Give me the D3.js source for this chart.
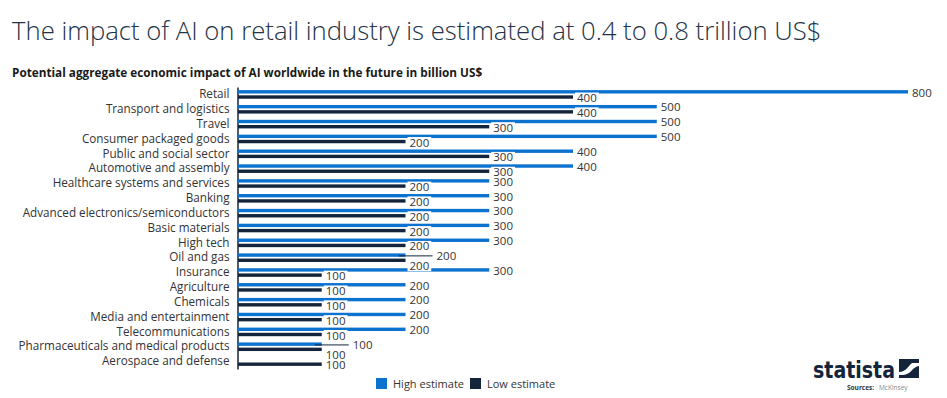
<!DOCTYPE html>
<html>
<head>
<meta charset="utf-8">
<script src="https://cdn.jsdelivr.net/npm/d3@7"></script>
<style>
  body { margin: 0; background: #fff; }
  svg { display: block; font-family: "Open Sans", sans-serif; }
</style>
</head>
<body>
<div id="chart"></div>
<script>
var categories = [
    "Retail", "Transport and logistics", "Travel", "Consumer packaged goods",
    "Public and social sector", "Automotive and assembly", "Healthcare systems and services",
    "Banking", "Advanced electronics/semiconductors", "Basic materials", "High tech",
    "Oil and gas", "Insurance", "Agriculture", "Chemicals", "Media and entertainment",
    "Telecommunications", "Pharmaceuticals and medical products", "Aerospace and defense"
];
var highEstimate = [800, 500, 500, 500, 400, 400, 300, 300, 300, 300, 300, 200, 300, 200, 200, 200, 200, 100, null];
var lowEstimate  = [400, 400, 300, 200, 300, 300, 200, 200, 200, 200, 200, 200, 100, 100, 100, 100, 100, 100, 100];
var seriesNames = ["High estimate", "Low estimate"];

var W = 947, H = 398;
var blue = "#0b72cf", navy = "#14253b", textCol = "#333";

var svg = d3.select("#chart").append("svg")
    .attr("width", W)
    .attr("height", H);

// titles
svg.append("text")
    .attr("x", 12).attr("y", 40)
    .attr("font-size", 25.7).attr("font-weight", 300)
    .attr("fill", "#243346")
    .text("The impact of AI on retail industry is estimated at 0.4 to 0.8 trillion US$");

svg.append("text")
    .attr("x", 12).attr("y", 77)
    .attr("font-size", 11.75).attr("font-weight", 700)
    .attr("fill", "#1a1a1a")
    .text("Potential aggregate economic impact of AI worldwide in the future in billion US$");

var x = d3.scaleLinear().domain([0, 800]).range([238, 908]);
var y = d3.scaleBand().domain(categories).range([87, 369]).paddingInner(0);
var half = y.bandwidth() / 2;
var hiY = function(i) { return y(categories[i]) + half - 2.6; };
var loY = function(i) { return y(categories[i]) + half + 2.6; };

var rows = categories.map(function(c, i) {
    return { cat: c, i: i, high: highEstimate[i], low: lowEstimate[i] };
});

// category axis
var axis = svg.append("g")
    .attr("transform", "translate(237.5,0)")
    .call(d3.axisLeft(y).tickSize(0).tickPadding(8));
axis.select(".domain").attr("stroke", navy).attr("stroke-width", 1.5);
axis.selectAll("text")
    .attr("font-size", 11.7)
    .attr("font-family", "Open Sans, sans-serif")
    .attr("fill", textCol);

var barH = 3.4;

svg.append("g").selectAll("rect")
    .data(rows.filter(function(d) { return d.high != null; }))
    .join("rect")
    .attr("x", x(0))
    .attr("y", function(d) { return hiY(d.i) - barH / 2; })
    .attr("width", function(d) { return x(d.high) - x(0); })
    .attr("height", barH)
    .attr("fill", blue);

svg.append("g").selectAll("rect")
    .data(rows)
    .join("rect")
    .attr("x", x(0))
    .attr("y", function(d) { return loY(d.i) - barH / 2; })
    .attr("width", function(d) { return x(d.low) - x(0); })
    .attr("height", barH)
    .attr("fill", navy);

// value labels: when both estimates are equal, the high one is pulled aside with a leader line
var labels = [];
rows.forEach(function(d) {
    var same = d.high === d.low;
    if (d.high != null) {
        labels.push({ v: d.high, x: x(d.high) + (same ? 31 : 4), y: hiY(d.i) + 0.8, leader: same });
    }
    labels.push({ v: d.low, x: x(d.low) + 4, y: loY(d.i) + (same ? 5.5 : 1), leader: false });
});

var lg = svg.append("g");
labels.forEach(function(l) {
    if (l.leader) {
        lg.append("line")
            .attr("x1", l.x - 38).attr("x2", l.x - 4)
            .attr("y1", l.y).attr("y2", l.y)
            .attr("stroke", navy).attr("stroke-width", 1);
    }
    var bg = lg.append("rect").attr("fill", "#fff");
    var t = lg.append("text")
        .attr("x", l.x).attr("y", l.y)
        .attr("dy", "0.35em")
        .attr("font-size", 11.5)
        .attr("fill", textCol)
        .text(l.v);
    var bb = t.node().getBBox();
    bg.attr("x", bb.x - 2).attr("y", l.y - 5.5)
        .attr("width", bb.width + 4).attr("height", 11);
});

// legend
var legend = svg.append("g");
[[376, blue], [470, navy]].forEach(function(p, k) {
    legend.append("rect")
        .attr("x", p[0]).attr("y", 378)
        .attr("width", 11).attr("height", 11)
        .attr("fill", p[1]);
    legend.append("text")
        .attr("x", p[0] + 17).attr("y", 388)
        .attr("font-size", 11).attr("fill", textCol)
        .text(seriesNames[k]);
});

// statista logo + source
svg.append("text")
    .attr("x", 813).attr("y", 378)
    .attr("font-family", "Liberation Sans Narrow, DejaVu Sans Condensed, sans-serif")
    .attr("font-size", 23).attr("font-weight", 700)
    .attr("textLength", 82).attr("lengthAdjust", "spacingAndGlyphs")
    .attr("fill", navy)
    .text("statista");
svg.append("rect")
    .attr("x", 899).attr("y", 359)
    .attr("width", 20).attr("height", 19)
    .attr("fill", navy);
svg.append("path")
    .attr("d", "M899,372 C906,372 908,366 912,363 L919,363 L919,366 C913,366 911,375 903,375 L899,375 Z")
    .attr("fill", "#fff");

svg.append("text")
    .attr("x", 847).attr("y", 390)
    .attr("font-size", 6.5).attr("font-weight", 700)
    .attr("fill", "#333")
    .text("Sources:");
svg.append("text")
    .attr("x", 879).attr("y", 390)
    .attr("font-size", 6.5)
    .attr("fill", "#888")
    .text("McKinsey");
</script>
</body>
</html>
